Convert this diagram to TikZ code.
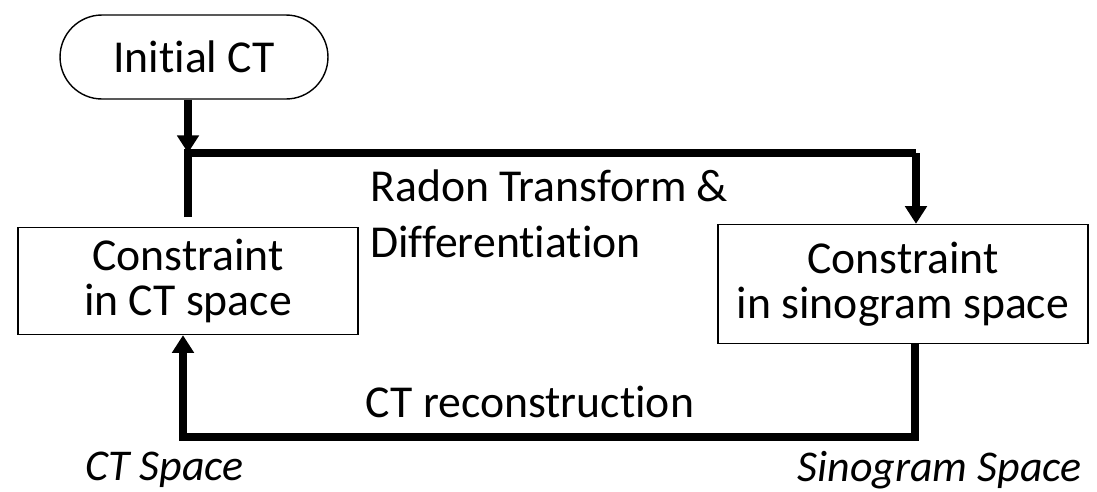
\documentclass[tikz,border=0pt]{standalone}
\usepackage{fontspec}
\setmainfont{Carlito}[Ligatures=NoCommon]
\usetikzlibrary{shapes.misc,arrows.meta}

\tikzset{
    box/.style={draw, line width=0.8pt, align=center, inner sep=0pt},
    flow/.style={line width=4.5pt},
    flowarrow/.style={flow, -{Triangle[width=12pt,length=10pt]}},
    spacelabel/.style={inner sep=0pt, font=\fontsize{25}{25}\selectfont\itshape}
}

\begin{document}
\begin{tikzpicture}[x=0.02cm, y=-0.02cm, font=\fontsize{26}{25.5}\selectfont]
    \useasboundingbox (0,0) rectangle (1097,491);

    % 起点
    \node[box, rounded rectangle, minimum width=5.36cm, minimum height=1.68cm] (init) at (194, 57) {Initial CT};

    % 两个约束框
    \node[box, minimum width=6.8cm, minimum height=2.14cm] (ctbox) at (188, 281) {Constraint\\in CT space};
    \node[box, minimum width=7.4cm, minimum height=2.38cm] (sinobox) at (903, 284) {Constraint\\in sinogram space};

    % 连线用的拐点
    \coordinate (split) at (188, 153);
    \coordinate (down) at (916, 153);
    \coordinate (back) at (915, 437);
    \coordinate (up) at (183, 437);

    \draw[flowarrow] (init.south -| split) -- (split);
    \draw[flow] (split) ++(0,64) -- (split) -- (down);
    \draw[flowarrow] (down) -- (sinobox.north -| down);
    \draw[flowarrow] (sinobox.south -| back) -- (back) -- (up) -- (ctbox.south -| up);

    % 说明文字
    \node[anchor=west, align=left, inner sep=0pt, font=\fontsize{26}{32}\selectfont] (radon) at (370, 214)
        {Radon Transform \&\\Differentiation};
    \node[inner sep=0pt] (recon) at (530, 402) {CT reconstruction};
    \node[spacelabel, anchor=west] (ctspace) at (85, 470) {CT Space};
    \node[spacelabel, anchor=east] (sinospace) at (1082, 470) {Sinogram Space};
\end{tikzpicture}
\end{document}
